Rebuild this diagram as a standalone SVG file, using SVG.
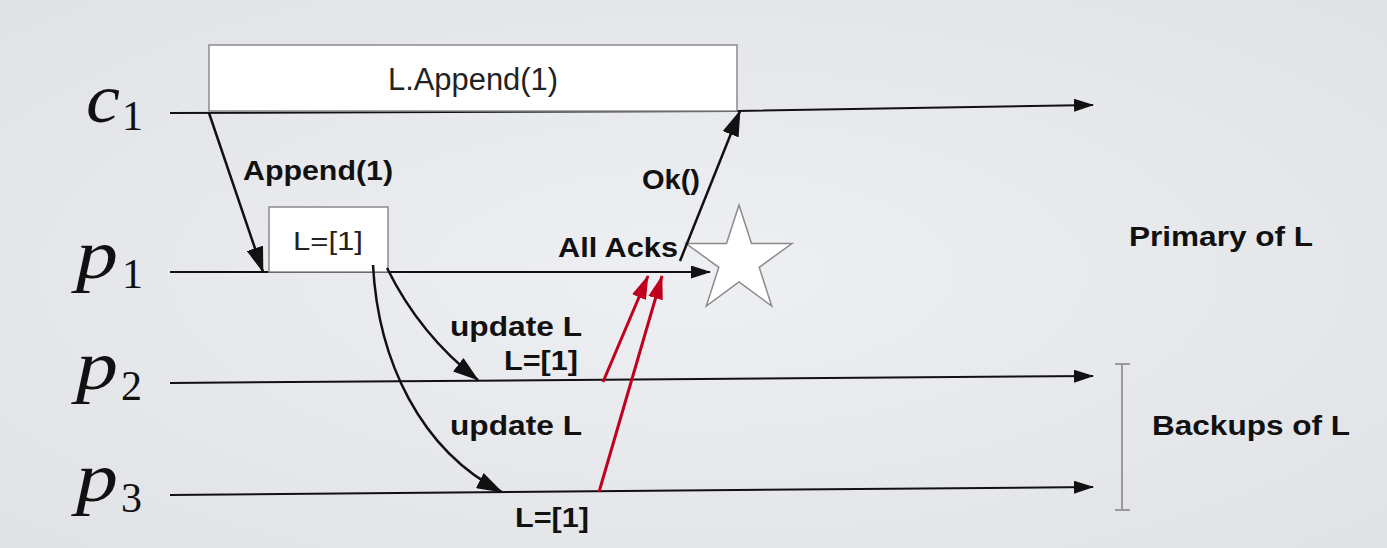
<svg xmlns="http://www.w3.org/2000/svg" width="1387" height="548" viewBox="0 0 1387 548">
<defs>
<radialGradient id="bg" cx="0.5" cy="0.5" r="0.75">
<stop offset="0" stop-color="#eeeff2"/>
<stop offset="1" stop-color="#dfe1e5"/>
</radialGradient>
<marker id="ah" viewBox="0 0 26 17" refX="25" refY="8.5" markerWidth="26" markerHeight="17" markerUnits="userSpaceOnUse" orient="auto">
<path d="M0,0 L26,8.5 L0,17 z" fill="#111"/>
</marker>
<marker id="ahs" viewBox="0 0 20 13" refX="19" refY="6.5" markerWidth="20" markerHeight="13" markerUnits="userSpaceOnUse" orient="auto">
<path d="M0,0 L20,6.5 L0,13 z" fill="#111"/>
</marker>
<marker id="ahr" viewBox="0 0 24 15" refX="23" refY="7.5" markerWidth="24" markerHeight="15" markerUnits="userSpaceOnUse" orient="auto">
<path d="M0,0 L24,7.5 L0,15 z" fill="#c0001d"/>
</marker>
</defs>
<style>
.math{font-family:"Liberation Serif","DejaVu Serif",serif;font-style:italic;fill:#111}
.sub{font-family:"Liberation Serif","DejaVu Serif",serif;fill:#111}
.lbl{font-family:"Liberation Sans",Arial,sans-serif;font-weight:bold;fill:#111;font-size:27px}
.reg{font-family:"Liberation Sans",Arial,sans-serif;fill:#222}
.box{fill:#fff;stroke:#8a8a8a;stroke-width:1.5}
.ln{fill:none;stroke:#111;stroke-width:2}
.ar{fill:none;stroke:#111;stroke-width:2.5}
.red{fill:none;stroke:#c0001d;stroke-width:3}
</style>
<rect width="1387" height="548" fill="url(#bg)"/>

<g id="label-c1">
<text class="math" x="86" y="122" font-size="70" textLength="34" lengthAdjust="spacingAndGlyphs">c</text>
<text class="sub" x="122" y="130" font-size="42">1</text>
</g>
<g id="label-p1">
<text class="math" x="76" y="278" font-size="70" textLength="42" lengthAdjust="spacingAndGlyphs">p</text>
<text class="sub" x="122" y="288" font-size="42">1</text>
</g>
<g id="label-p2">
<text class="math" x="76" y="389" font-size="70" textLength="42" lengthAdjust="spacingAndGlyphs">p</text>
<text class="sub" x="121" y="400" font-size="42">2</text>
</g>
<g id="label-p3">
<text class="math" x="76" y="501" font-size="70" textLength="42" lengthAdjust="spacingAndGlyphs">p</text>
<text class="sub" x="121" y="512" font-size="42">3</text>
</g>

<g id="connectors">
<path class="ln" d="M170,113 L737,111 L1093,105" marker-end="url(#ahs)"/>
<path class="ln" d="M170,272 L710,272" marker-end="url(#ahs)"/>
<path class="ln" d="M170,383 L1093,376" marker-end="url(#ahs)"/>
<path class="ln" d="M170,495 L1093,487" marker-end="url(#ahs)"/>
</g>

<g id="node-lappend">
<rect class="box" x="209" y="45" width="528" height="66"/>
<text class="reg" x="388" y="90" font-size="31" textLength="170" lengthAdjust="spacingAndGlyphs">L.Append(1)</text>
</g>

<g id="node-l1">
<rect class="box" x="269" y="207" width="119" height="65"/>
<text class="reg" x="293" y="250" font-size="26" textLength="70" lengthAdjust="spacingAndGlyphs">L=[1]</text>
</g>

<g id="node-star">
<polygon points="739,205 751.5,243.5 792,243.5 759.2,267.3 771.7,306 739,282 706.3,306 718.8,267.3 686,243.5 726.5,243.5" fill="#fff" stroke="#8a8a8a" stroke-width="1.5"/>
</g>

<g id="messages">
<path class="ar" d="M209,113 L263,272" marker-end="url(#ah)"/>
<path class="ar" d="M680,261 L740,111" marker-end="url(#ah)"/>
<path class="ar" d="M387,268 Q420,335 478,380" marker-end="url(#ah)"/>
<path class="ar" d="M373,265 C378,360 420,450 502,492" marker-end="url(#ah)"/>
<path class="red" d="M603,382 L648,276" marker-end="url(#ahr)"/>
<path class="red" d="M599,492 L662,276" marker-end="url(#ahr)"/>
</g>

<g id="texts">
<text class="lbl" x="243" y="180" textLength="150" lengthAdjust="spacingAndGlyphs">Append(1)</text>
<text class="lbl" x="642" y="189" textLength="58" lengthAdjust="spacingAndGlyphs">Ok()</text>
<text class="lbl" x="558" y="257" textLength="120" lengthAdjust="spacingAndGlyphs">All Acks</text>
<text class="lbl" x="450" y="336" textLength="132" lengthAdjust="spacingAndGlyphs">update L</text>
<text class="lbl" x="504" y="370" textLength="74" lengthAdjust="spacingAndGlyphs">L=[1]</text>
<text class="lbl" x="450" y="435" textLength="132" lengthAdjust="spacingAndGlyphs">update L</text>
<text class="lbl" x="515" y="527" textLength="74" lengthAdjust="spacingAndGlyphs">L=[1]</text>
</g>

<g id="node-primary">
<text class="lbl" x="1129" y="246" textLength="184" lengthAdjust="spacingAndGlyphs">Primary of L</text>
</g>
<g id="node-backups">
<path d="M1122,364 L1122,510 M1115,364 L1130,364 M1115,510 L1130,510" fill="none" stroke="#9a9a9a" stroke-width="2"/>
<text class="lbl" x="1152" y="435" textLength="198" lengthAdjust="spacingAndGlyphs">Backups of L</text>
</g>
</svg>
